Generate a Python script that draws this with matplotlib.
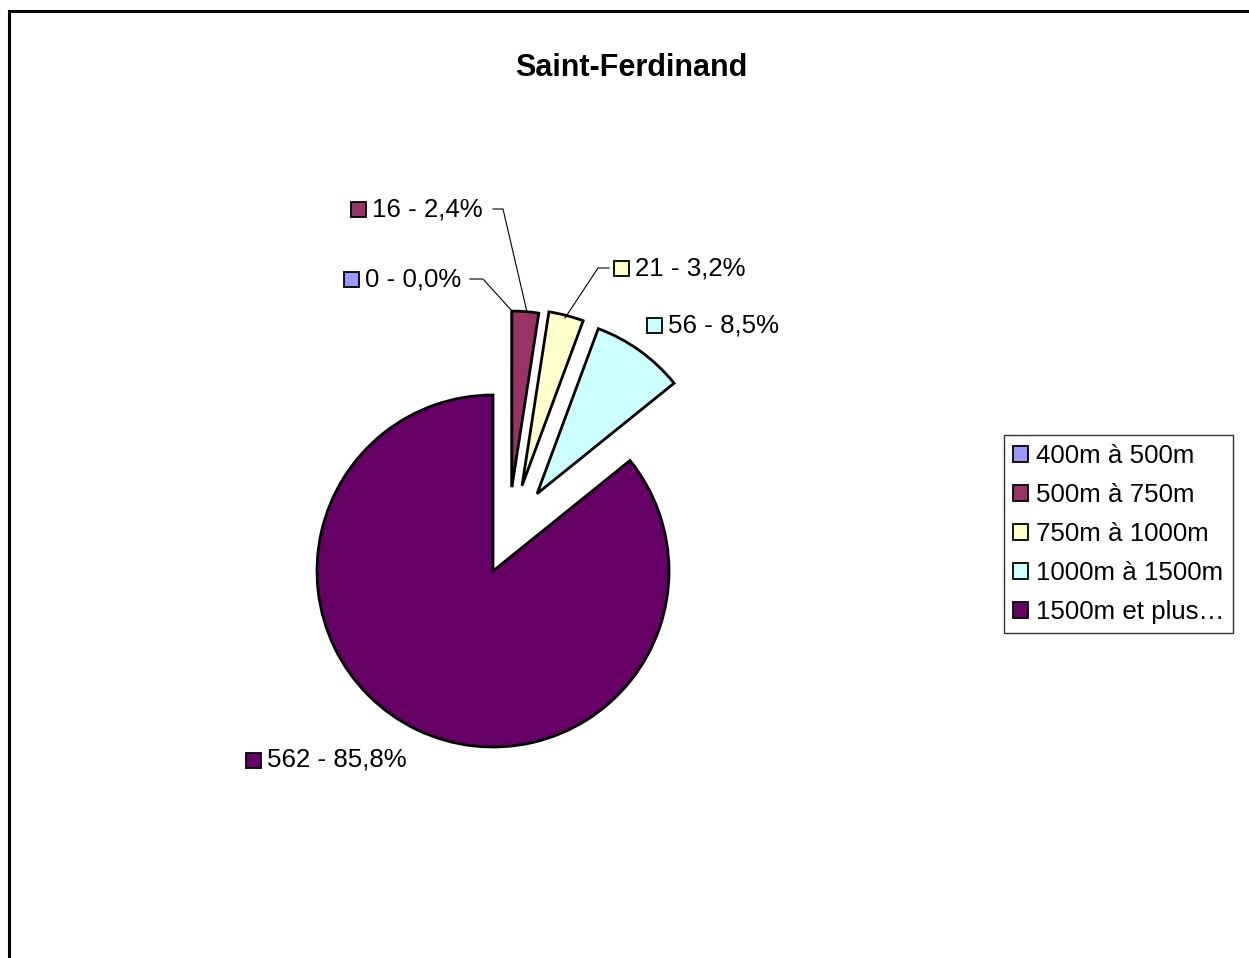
import math
import matplotlib
matplotlib.use("Agg")
import matplotlib.pyplot as plt
from matplotlib.patches import Rectangle

categories = ["400m à 500m", "500m à 750m", "750m à 1000m", "1000m à 1500m", "1500m et plus…"]
values = [0, 16, 21, 56, 562]
colors = ["#9999FF", "#993366", "#FFFFCC", "#CCFFFF", "#660066"]
title = "Saint-Ferdinand"

plt.rcParams['font.family'] = ['Liberation Sans', 'DejaVu Sans']

W, H = 1249, 958
fig = plt.figure(figsize=(W / 100, H / 100), dpi=100)
ax = fig.add_axes([0, 0, 1, 1])

def Y(y):
    return H - y

R = 176
cx, cy = 493, Y(571)
wedges, _ = ax.pie(values, colors=colors, startangle=90,
                   counterclock=False, radius=R, center=(cx, cy),
                   wedgeprops=dict(edgecolor='black', linewidth=2.0),
                   frame=True)

# explosion offsets (distance px, direction in degrees clockwise from 12 o'clock)
explode_dist = [86, 86, 90, 89, 0]
explode_dir = [12.7, 12.7, 18.8, 29.7, 0]
for w, d, a in zip(wedges, explode_dist, explode_dir):
    w.set_center((cx + d * math.sin(math.radians(a)), cy + d * math.cos(math.radians(a))))

ax.set_xlim(0, W)
ax.set_ylim(0, H)
ax.set_aspect('equal')
ax.axis('off')

# outer chart border
ax.add_patch(Rectangle((9, Y(1000)), 1300, 1000 - 11, fill=False, lw=2.2, ec='black'))

total = sum(values)
labels = [f"{v} - {100 * v / total:.1f}%".replace('.', ',') for v in values]

fs = 18.6
# label layout (square-left x, center y) in pixels
label_pos = [(344, 279), (351, 209), (614, 268), (647, 325), (246, 760)]
sq = 15
for lab, col, (lx, ly) in zip(labels, colors, label_pos):
    ax.add_patch(Rectangle((lx, Y(ly) - sq / 2), sq, sq, fc=col, ec='black', lw=1.3))
    ax.text(lx + sq + 6, Y(ly), lab, fontsize=fs, va='center', ha='left')

# leader lines
leaders = [
    [(470, 279), (483, 279), (512, 311)],
    [(493, 209), (503, 209), (527, 312)],
    [(609, 268), (598, 268), (565, 318)],
]
for pts in leaders:
    ax.plot([p[0] for p in pts], [Y(p[1]) for p in pts], color='black', lw=0.8)

ax.text(631, Y(68), title, fontsize=22, fontweight='bold', ha='center', va='center')

leg = ax.legend(wedges, categories, loc='upper left',
                bbox_to_anchor=(1004 / W, 1 - 435 / H), bbox_transform=fig.transFigure,
                fontsize=fs, frameon=True, fancybox=False, shadow=False,
                handlelength=0.58, handleheight=0.58, handletextpad=0.3,
                labelspacing=0.58, borderpad=0.35, borderaxespad=0)
leg.get_frame().set_edgecolor('black')
leg.get_frame().set_linewidth(1.0)
for h in leg.legend_handles:
    h.set_linewidth(1.3)

fig.savefig("out.png", dpi=100)
